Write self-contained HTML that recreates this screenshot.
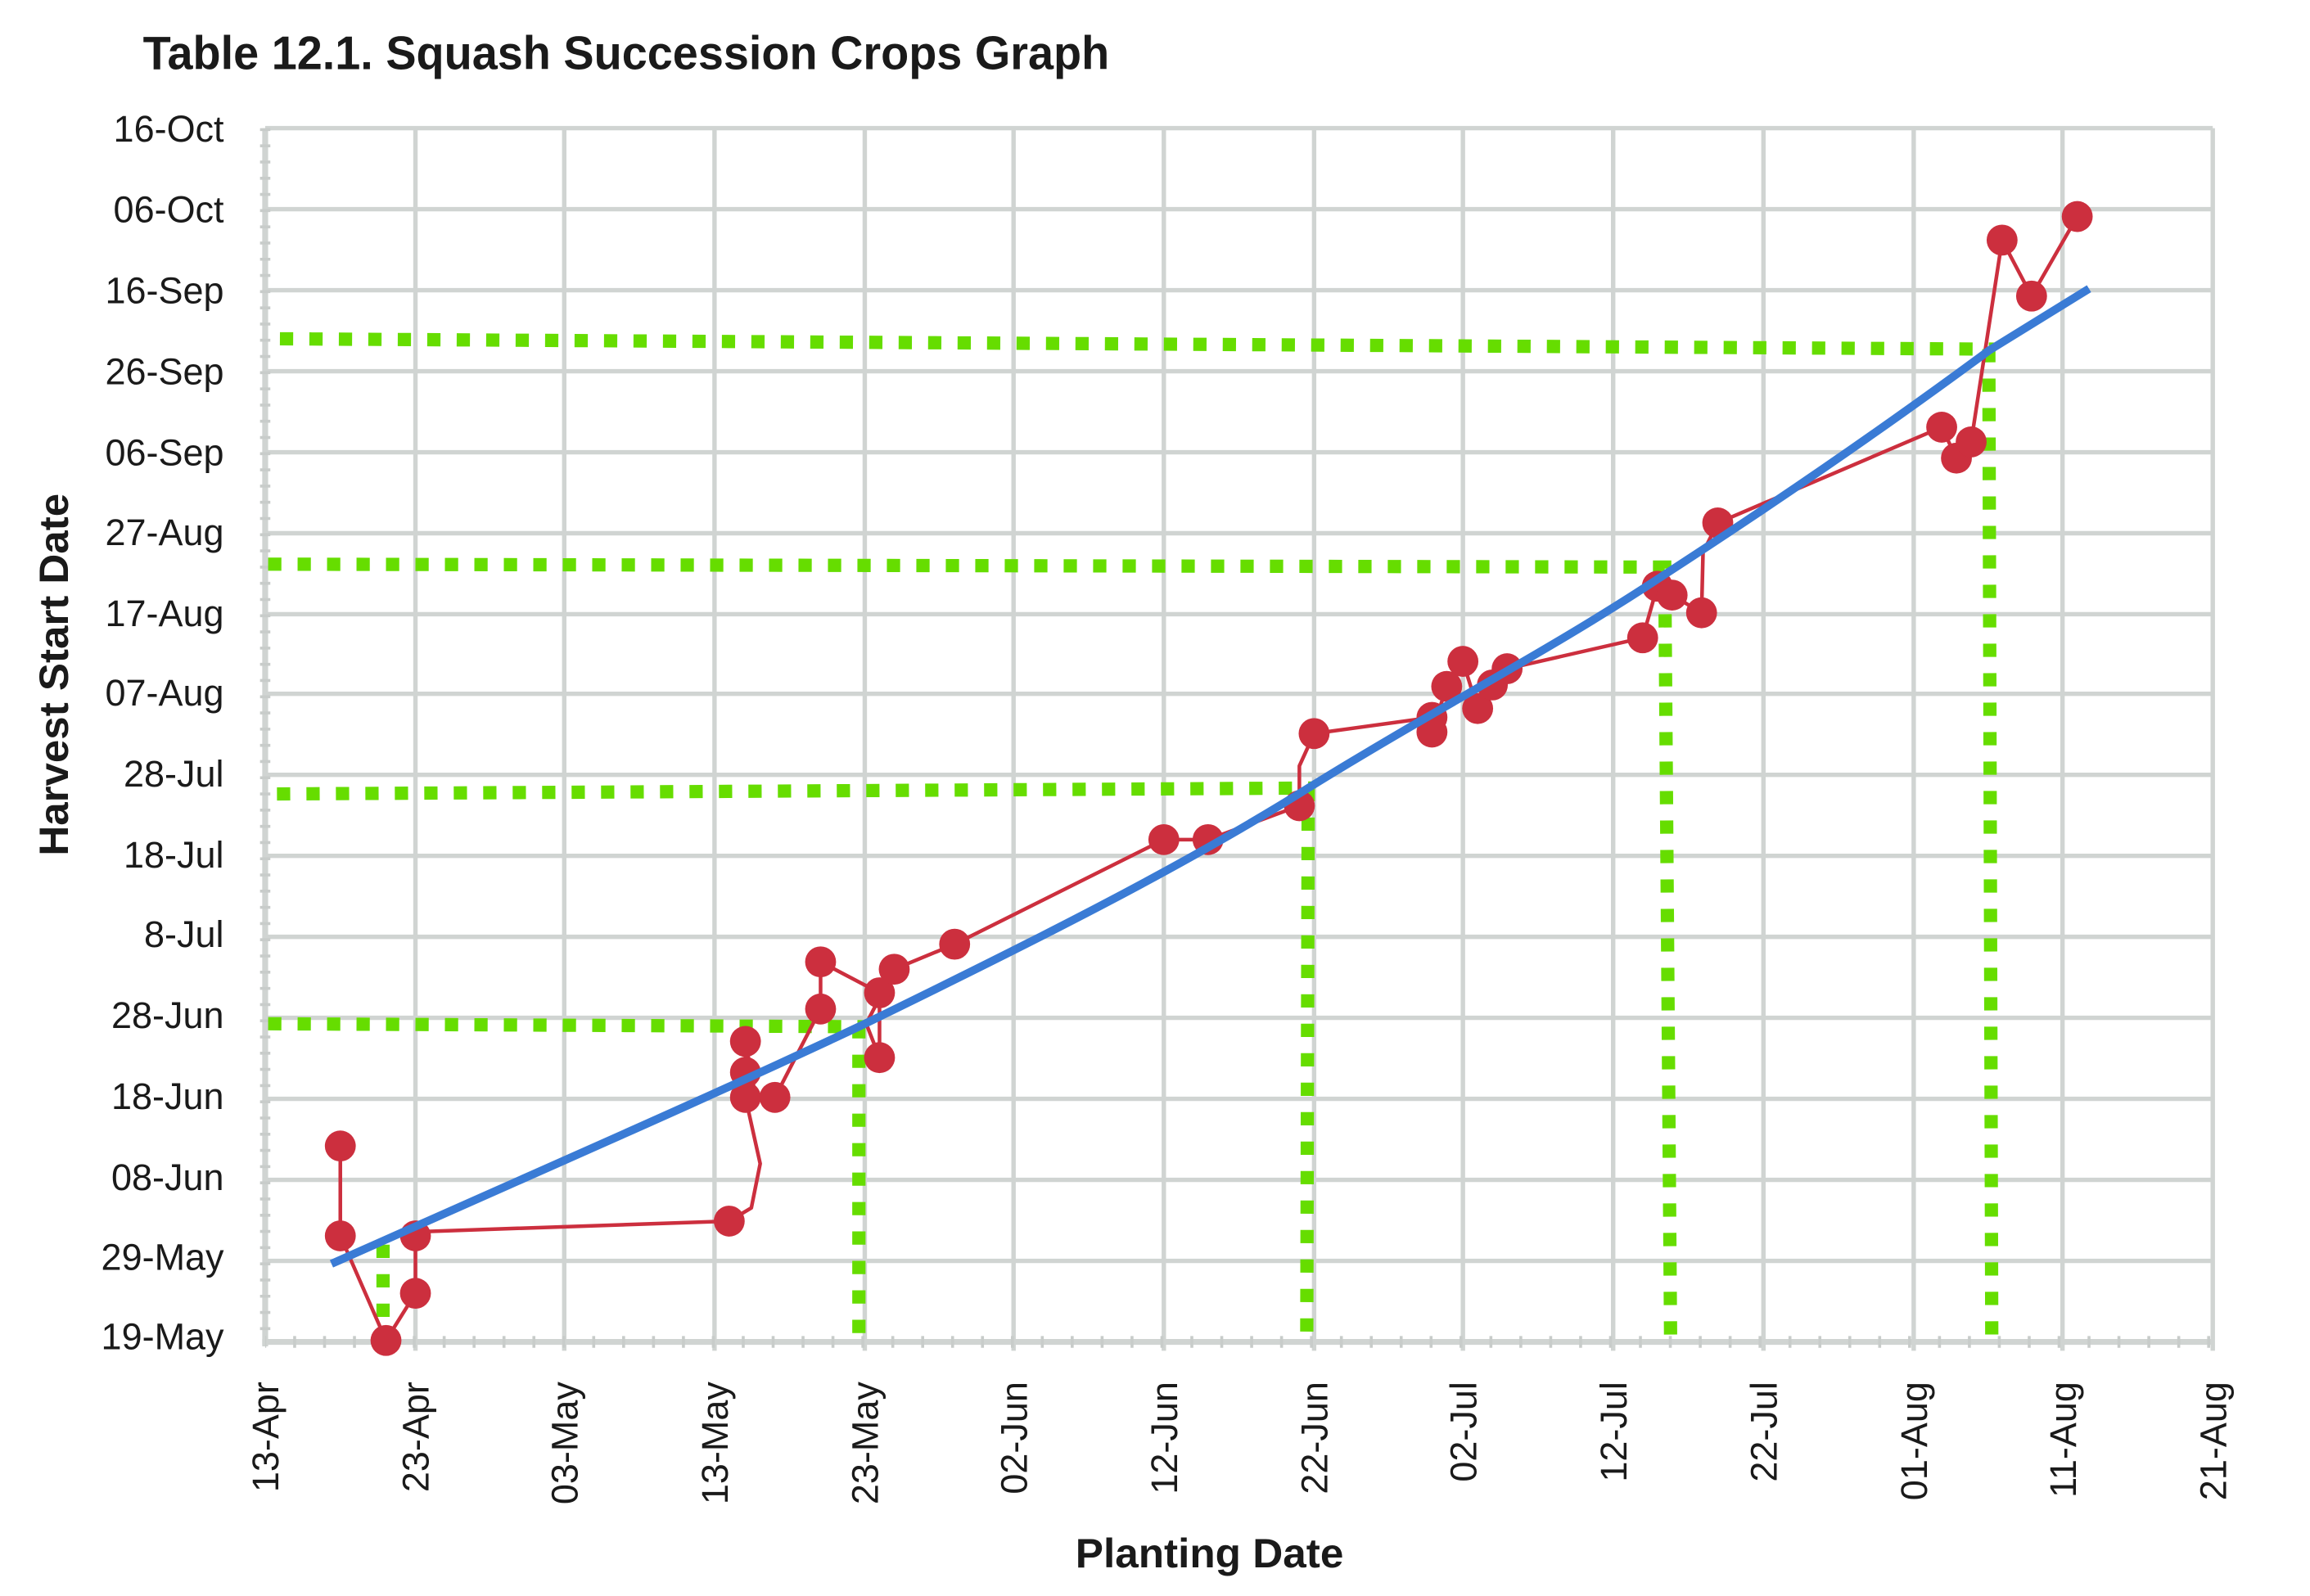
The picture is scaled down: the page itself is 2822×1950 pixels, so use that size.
<!DOCTYPE html>
<html><head><meta charset="utf-8"><style>
html,body{margin:0;padding:0;background:#fff;}
svg{display:block;}
text{font-family:"Liberation Sans",sans-serif;fill:#1a1a1a;}
</style></head><body>
<svg width="2822" height="1950" viewBox="0 0 1568 1083.5" preserveAspectRatio="none" xmlns="http://www.w3.org/2000/svg">
<rect width="1568" height="1083.5" fill="#fff"/>
<text x="97" y="47" font-size="32" font-weight="bold" textLength="656" lengthAdjust="spacingAndGlyphs">Table 12.1. Squash Succession Crops Graph</text>
<g stroke="#d0d4d2" stroke-width="3" fill="none">
<line x1="180" y1="87" x2="1502" y2="87"/><line x1="180" y1="142" x2="1502" y2="142"/><line x1="180" y1="197" x2="1502" y2="197"/><line x1="180" y1="252" x2="1502" y2="252"/><line x1="180" y1="307" x2="1502" y2="307"/><line x1="180" y1="362" x2="1502" y2="362"/><line x1="180" y1="417" x2="1502" y2="417"/><line x1="180" y1="471" x2="1502" y2="471"/><line x1="180" y1="526" x2="1502" y2="526"/><line x1="180" y1="581" x2="1502" y2="581"/><line x1="180" y1="636" x2="1502" y2="636"/><line x1="180" y1="691" x2="1502" y2="691"/><line x1="180" y1="746" x2="1502" y2="746"/><line x1="180" y1="801" x2="1502" y2="801"/><line x1="180" y1="856" x2="1502" y2="856"/>
<line x1="178" y1="911" x2="1502" y2="911" stroke-width="4"/>
<line x1="180" y1="87" x2="180" y2="914" stroke-width="4"/>
<line x1="282" y1="87" x2="282" y2="917"/><line x1="383" y1="87" x2="383" y2="917"/><line x1="485" y1="87" x2="485" y2="917"/><line x1="587" y1="87" x2="587" y2="917"/><line x1="688" y1="87" x2="688" y2="917"/><line x1="790" y1="87" x2="790" y2="917"/><line x1="892" y1="87" x2="892" y2="917"/><line x1="993" y1="87" x2="993" y2="917"/><line x1="1095" y1="87" x2="1095" y2="917"/><line x1="1197" y1="87" x2="1197" y2="917"/><line x1="1299" y1="87" x2="1299" y2="917"/><line x1="1400" y1="87" x2="1400" y2="917"/><line x1="1502" y1="87" x2="1502" y2="917"/>
</g>
<line x1="180" y1="911" x2="1502" y2="911" stroke="#c8ccca" stroke-width="8" stroke-dasharray="2 18.3" stroke-dashoffset="-19"/>
<line x1="180" y1="87" x2="180" y2="911" stroke="#c8ccca" stroke-width="7" stroke-dasharray="2 9" />
<g stroke="#66dd00" stroke-width="9" fill="none" stroke-dasharray="9 11">
<polyline points="190,230 1350,237 1352,911"/>
<polyline points="182,383 1130,385 1134,911"/>
<polyline points="188,539 888,535 887,911"/>
<polyline points="182,695 583,697 583,911"/>
<line x1="260" y1="845" x2="260" y2="911"/>
</g>
<polyline fill="none" stroke="#cc2f3e" stroke-width="2.5" stroke-linejoin="round" points="231,778 231,839 262,910 282,878 282,839 290,836 495,829 510,820 516,790 506,745 506,728 506,707 513,745 526,745 557,685 557,653 597,674 597,718 588,695 607,658 648,641 790,570 820,570 882,547 882,520 892,498 972,487 972,497 982,466 993,449 1003,481 1013,465 1023,454 1115,433 1125,398 1135,404 1155,416 1156,375 1166,355 1318,290 1328,311 1338,300 1359,163 1379,201 1410,147"/>
<g fill="#cc2f3e">
<circle cx="231" cy="778" r="10.5"/><circle cx="231" cy="839" r="10.5"/><circle cx="262" cy="910" r="10.5"/><circle cx="282" cy="878" r="10.5"/><circle cx="282" cy="839" r="10.5"/><circle cx="495" cy="829" r="10.5"/><circle cx="506" cy="707" r="10.5"/><circle cx="506" cy="728" r="10.5"/><circle cx="506" cy="745" r="10.5"/><circle cx="526" cy="745" r="10.5"/><circle cx="557" cy="685" r="10.5"/><circle cx="557" cy="653" r="10.5"/><circle cx="597" cy="674" r="10.5"/><circle cx="597" cy="718" r="10.5"/><circle cx="607" cy="658" r="10.5"/><circle cx="648" cy="641" r="10.5"/><circle cx="790" cy="570" r="10.5"/><circle cx="820" cy="570" r="10.5"/><circle cx="882" cy="547" r="10.5"/><circle cx="892" cy="498" r="10.5"/><circle cx="972" cy="487" r="10.5"/><circle cx="972" cy="497" r="10.5"/><circle cx="982" cy="466" r="10.5"/><circle cx="993" cy="449" r="10.5"/><circle cx="1003" cy="481" r="10.5"/><circle cx="1013" cy="465" r="10.5"/><circle cx="1023" cy="454" r="10.5"/><circle cx="1115" cy="433" r="10.5"/><circle cx="1125" cy="398" r="10.5"/><circle cx="1135" cy="404" r="10.5"/><circle cx="1155" cy="416" r="10.5"/><circle cx="1166" cy="355" r="10.5"/><circle cx="1318" cy="290" r="10.5"/><circle cx="1328" cy="311" r="10.5"/><circle cx="1338" cy="300" r="10.5"/><circle cx="1359" cy="163" r="10.5"/><circle cx="1379" cy="201" r="10.5"/><circle cx="1410" cy="147" r="10.5"/>
</g>
<path d="M225,858 C400,780 470,750 583,697 C700,640 800,590 888,535 C980,478 1050,443 1130,390 C1230,325 1300,275 1350,238 L1418,196" fill="none" stroke="#3a7bd5" stroke-width="5.5"/>
<g font-size="25" text-anchor="end">
<text x="152" y="96">16-Oct</text><text x="152" y="151">06-Oct</text><text x="152" y="206">16-Sep</text><text x="152" y="261">26-Sep</text><text x="152" y="316">06-Sep</text><text x="152" y="370">27-Aug</text><text x="152" y="425">17-Aug</text><text x="152" y="479">07-Aug</text><text x="152" y="534">28-Jul</text><text x="152" y="589">18-Jul</text><text x="152" y="643">8-Jul</text><text x="152" y="698">28-Jun</text><text x="152" y="753">18-Jun</text><text x="152" y="808">08-Jun</text><text x="152" y="862">29-May</text><text x="152" y="916">19-May</text>
</g>
<g font-size="25" text-anchor="end">
<text transform="translate(189,938) rotate(-90)">13-Apr</text>
<text transform="translate(291,938) rotate(-90)">23-Apr</text>
<text transform="translate(392,938) rotate(-90)">03-May</text>
<text transform="translate(494,938) rotate(-90)">13-May</text>
<text transform="translate(596,938) rotate(-90)">23-May</text>
<text transform="translate(697,938) rotate(-90)">02-Jun</text>
<text transform="translate(799,938) rotate(-90)">12-Jun</text>
<text transform="translate(901,938) rotate(-90)">22-Jun</text>
<text transform="translate(1002,938) rotate(-90)">02-Jul</text>
<text transform="translate(1104,938) rotate(-90)">12-Jul</text>
<text transform="translate(1206,938) rotate(-90)">22-Jul</text>
<text transform="translate(1308,938) rotate(-90)">01-Aug</text>
<text transform="translate(1409,938) rotate(-90)">11-Aug</text>
<text transform="translate(1511,938) rotate(-90)">21-Aug</text>
</g>
<text x="821" y="1064" font-size="28" font-weight="bold" text-anchor="middle" textLength="182" lengthAdjust="spacingAndGlyphs">Planting Date</text>
<text transform="translate(46,458) rotate(-90)" font-size="28" font-weight="bold" text-anchor="middle" textLength="246" lengthAdjust="spacingAndGlyphs">Harvest Start Date</text>
</svg>
</body></html>
